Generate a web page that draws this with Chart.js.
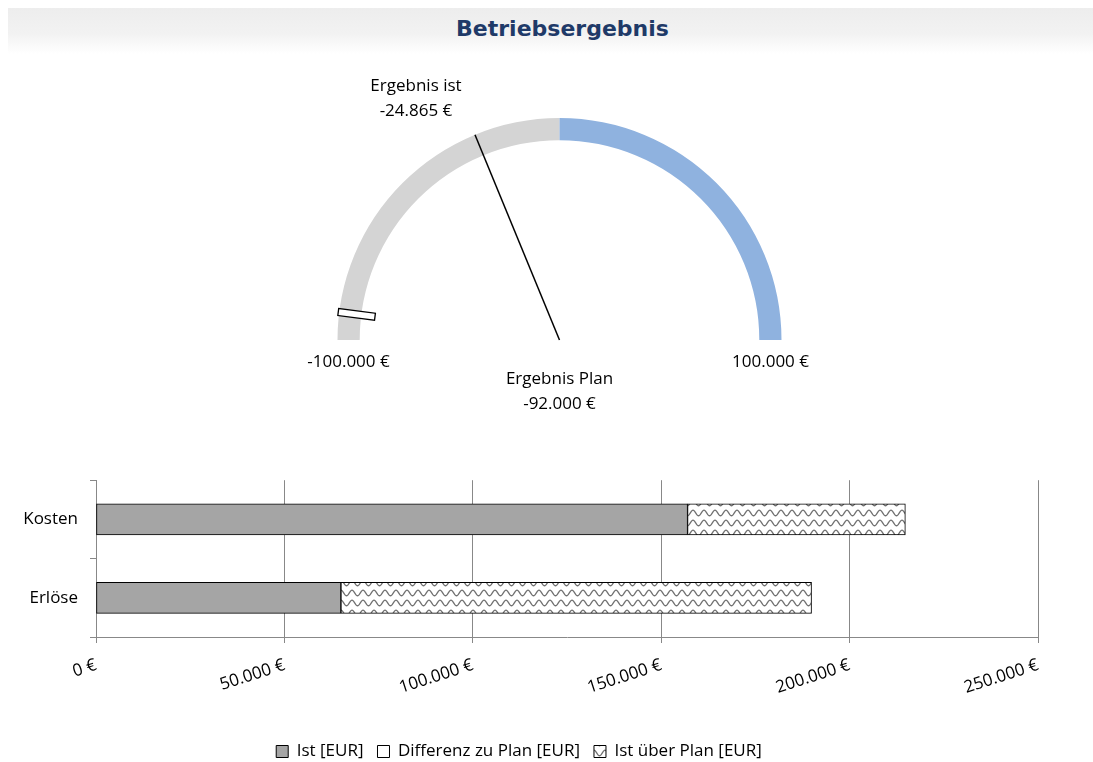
<!DOCTYPE html>
<html>
<head>
<meta charset="utf-8">
<script src="https://cdn.jsdelivr.net/npm/chart.js@4.4.0/dist/chart.umd.min.js"></script>
<style>
  body { margin: 0; width: 1093px; height: 762px; overflow: hidden; background: #fff; position: relative; }
  .title-bar {
    position: absolute; left: 8px; top: 8px; width: 1085px; height: 46px;
    background: linear-gradient(#ededed, #f2f2f2 55%, #ffffff);
    text-align: center;
  }
  .title-bar h1 { margin: 0; padding-left: 24px; font: bold 22px "DejaVu Sans", sans-serif; color: #1f3a68; line-height: 42px; }
  #gaugeChart { position: absolute; left: 280px; top: 60px; }
  #barChart { position: absolute; left: 0; top: 458px; }
</style>
</head>
<body>
<div class="title-bar"><h1>Betriebsergebnis</h1></div>
<canvas id="gaugeChart" width="560" height="360"></canvas>
<canvas id="barChart" width="1093" height="312"></canvas>
<script>
// Gauge data
const gaugeRange = [-100000, 100000];
const gaugeSegments = [100000, 100000];   // Verlust / Gewinn
const gaugeColors = ['#d4d4d4', '#8fb2df'];
const ergebnisIst = -24865;
const ergebnisPlan = -92000;

// Bar data
const categories = ['Kosten', 'Erlöse'];
const istValues = [157000, 65000];
const diffValues = [0, 0];
const ueberPlanValues = [57800, 124900];
const xTicks = [0, 50000, 100000, 150000, 200000, 250000];

const labelFont = { family: '"Open Sans", sans-serif', size: 17 };

function fmtEuro(v) {
  const s = Math.abs(v).toString().replace(/\B(?=(\d{3})+(?!\d))/g, '.');
  return (v < 0 ? '-' : '') + s + ' €';
}

function wavePattern() {
  const c = document.createElement('canvas');
  c.width = 11; c.height = 10;
  const g = c.getContext('2d');
  g.fillStyle = '#fff';
  g.fillRect(0, 0, 11, 10);
  g.strokeStyle = '#707070';
  g.lineWidth = 1.3;
  g.beginPath();
  for (let x = -1; x <= 12; x += 0.5) {
    const y = 5 - 2.8 * Math.cos(2 * Math.PI * x / 11);
    if (x === -1) g.moveTo(x, y); else g.lineTo(x, y);
  }
  g.stroke();
  return g.createPattern(c, 'repeat');
}

document.addEventListener('DOMContentLoaded', function() {
  // Needle, plan marker and labels on top of the gauge
  const gaugeOverlay = {
    id: 'gaugeOverlay',
    afterDatasetsDraw(chart) {
      const ctx = chart.ctx;
      const arc = chart.getDatasetMeta(0).data[0];
      const cx = arc.x, cy = arc.y, r = arc.outerRadius;
      const angleOf = v => Math.PI + (v - gaugeRange[0]) / (gaugeRange[1] - gaugeRange[0]) * Math.PI;

      // needle (Ist)
      const a = angleOf(ergebnisIst);
      const tipX = cx + r * Math.cos(a), tipY = cy + r * Math.sin(a);
      ctx.save();
      ctx.strokeStyle = '#000';
      ctx.lineWidth = 1.5;
      ctx.beginPath();
      ctx.moveTo(cx, cy);
      ctx.lineTo(tipX, tipY);
      ctx.stroke();

      // marker (Plan)
      const p = angleOf(ergebnisPlan);
      ctx.translate(cx, cy);
      ctx.rotate(p);
      ctx.fillStyle = '#fff';
      ctx.fillRect(r - 36, -3.5, 37, 7);
      ctx.lineWidth = 1.3;
      ctx.strokeRect(r - 36, -3.5, 37, 7);
      ctx.restore();

      // labels
      ctx.save();
      ctx.font = '17px "Open Sans", sans-serif';
      ctx.fillStyle = '#000';
      ctx.textAlign = 'center';
      ctx.textBaseline = 'middle';
      ctx.fillText(fmtEuro(gaugeRange[0]), cx - r + 11, cy + 22);
      ctx.fillText(fmtEuro(gaugeRange[1]), cx + r - 11, cy + 22);
      ctx.fillText('Ergebnis ist', tipX - 59, tipY - 49);
      ctx.fillText(fmtEuro(ergebnisIst), tipX - 59, tipY - 24);
      ctx.fillText('Ergebnis Plan', cx, cy + 39);
      ctx.fillText(fmtEuro(ergebnisPlan), cx, cy + 64);
      ctx.restore();
    }
  };

  new Chart(document.getElementById('gaugeChart'), {
    type: 'doughnut',
    data: {
      labels: ['Verlust', 'Gewinn'],
      datasets: [{
        data: gaugeSegments,
        backgroundColor: gaugeColors,
        borderWidth: 0
      }]
    },
    options: {
      responsive: false,
      animation: false,
      events: [],
      rotation: -90,
      circumference: 180,
      cutout: '90%',
      layout: { padding: { left: 57.5, right: 58.5, top: 58, bottom: 80 } },
      plugins: {
        legend: { display: false },
        tooltip: { enabled: false }
      }
    },
    plugins: [gaugeOverlay]
  });

  // Stacked bar chart
  new Chart(document.getElementById('barChart'), {
    type: 'bar',
    data: {
      labels: categories,
      datasets: [
        {
          label: 'Ist [EUR]',
          data: istValues,
          backgroundColor: '#a5a5a5',
          borderColor: '#000',
          borderWidth: 1,
          borderSkipped: false,
          barThickness: 31
        },
        {
          label: 'Differenz zu Plan [EUR]',
          data: diffValues,
          backgroundColor: '#fff',
          borderColor: '#000',
          borderWidth: 1,
          borderSkipped: false,
          barThickness: 31
        },
        {
          label: 'Ist über Plan [EUR]',
          data: ueberPlanValues,
          backgroundColor: wavePattern(),
          borderColor: '#000',
          borderWidth: 1,
          borderSkipped: false,
          barThickness: 31
        }
      ]
    },
    options: {
      indexAxis: 'y',
      responsive: false,
      animation: false,
      events: [],
      layout: { padding: { left: 0, right: 55, top: 8, bottom: 0 } },
      scales: {
        x: {
          stacked: true,
          min: 0,
          max: 250000,
          afterBuildTicks: s => { s.ticks = xTicks.map(v => ({ value: v })); },
          afterFit: s => { s.height = 92; },
          grid: { color: '#888', tickLength: 6 },
          border: { color: '#888' },
          ticks: {
            font: labelFont,
            color: '#000',
            minRotation: 18,
            maxRotation: 18,
            padding: 12,
            callback: v => fmtEuro(v)
          }
        },
        y: {
          stacked: true,
          afterFit: s => { s.width = 96; },
          grid: { drawOnChartArea: false, tickLength: 6, color: '#888', offset: true },
          border: { color: '#888' },
          ticks: { font: labelFont, color: '#000', padding: 12 }
        }
      },
      plugins: {
        legend: {
          position: 'bottom',
          labels: { font: labelFont, color: '#000', boxWidth: 12, boxHeight: 12, padding: 14 }
        },
        tooltip: { enabled: false }
      }
    }
  });
});
</script>
</body>
</html>
